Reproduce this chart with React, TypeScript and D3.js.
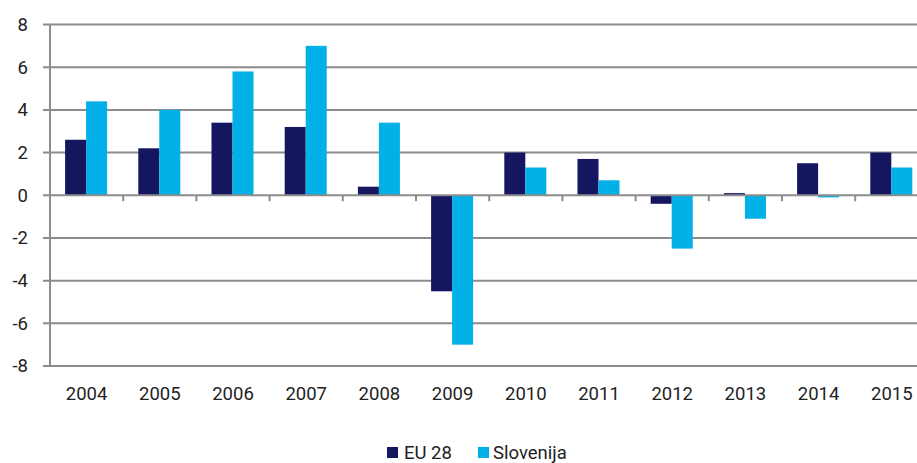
import React from "react";
import * as d3 from "d3";

const years = ["2004","2005","2006","2007","2008","2009","2010","2011","2012","2013","2014","2015"];
const eu28 = [2.6, 2.2, 3.4, 3.2, 0.4, -4.5, 2.0, 1.7, -0.4, 0.1, 1.5, 2.0];
const slovenija = [4.4, 4.0, 5.8, 7.0, 3.4, -7.0, 1.3, 0.7, -2.5, -1.1, -0.1, 1.3];
const yTicks = [-8, -6, -4, -2, 0, 2, 4, 6, 8];
const seriesNames = ["EU 28", "Slovenija"];
const colors = ["#141660", "#00b0e6"];

export default function App() {
  const W = 917, H = 463;
  const left = 50, right = 50 + 12 * 73.2, top = 24.5, bottom = 366;
  const x = d3.scaleBand<string>().domain(years).range([left, right]).paddingInner(0).paddingOuter(0);
  const y = d3.scaleLinear().domain([-8, 8]).range([bottom, top]);
  const bw = 21;
  const font = "Roboto, 'DejaVu Sans', sans-serif";
  const grid = "#8c8c8c";
  const txt = "#222222";
  const y0 = y(0);
  return (
    <svg width={W} height={H} style={{ position: "absolute", left: 0, top: 0 }} fontFamily={font}>
      {yTicks.map(t => (
        <g key={t}>
          {t !== 0 && <line x1={left - 7} x2={right} y1={y(t)} y2={y(t)} stroke={grid} strokeWidth={2} />}
          <text x={28} y={y(t)} dy="0.35em" textAnchor="end" fontSize={18.5} fill={txt}>{t}</text>
        </g>
      ))}
      {years.map((yr, i) => {
        const cx = x(yr)! + x.bandwidth() / 2 - 0.5;
        const vals = [eu28[i], slovenija[i]];
        return (
          <g key={yr}>
            {vals.map((v, j) => (
              <rect key={j} x={cx - bw + j * bw} width={bw}
                y={Math.min(y(v), y0)} height={Math.max(Math.abs(y(v) - y0), 1)}
                fill={colors[j]} />
            ))}
            <text x={cx + 0.5} y={400} textAnchor="middle" fontSize={18.5} fill={txt}>{yr}</text>
          </g>
        );
      })}
      {years.map((yr, i) => i > 0 && (
        <line key={"t" + yr} x1={x(yr)!} x2={x(yr)!} y1={y0} y2={y0 + 6} stroke={grid} strokeWidth={2} />
      ))}
      <line x1={left - 7} x2={right} y1={y0} y2={y0} stroke={grid} strokeWidth={2} />
      <line x1={left} x2={left} y1={top} y2={bottom} stroke={grid} strokeWidth={2} />
      <g>
        <rect x={387} y={447} width={11} height={11} fill={colors[0]} />
        <text x={404} y={452.5} dy="0.35em" fontSize={18.5} fill={txt}>{seriesNames[0]}</text>
        <rect x={478} y={447} width={11} height={11} fill={colors[1]} />
        <text x={493} y={452.5} dy="0.35em" fontSize={18.5} fill={txt}>{seriesNames[1]}</text>
      </g>
    </svg>
  );
}
